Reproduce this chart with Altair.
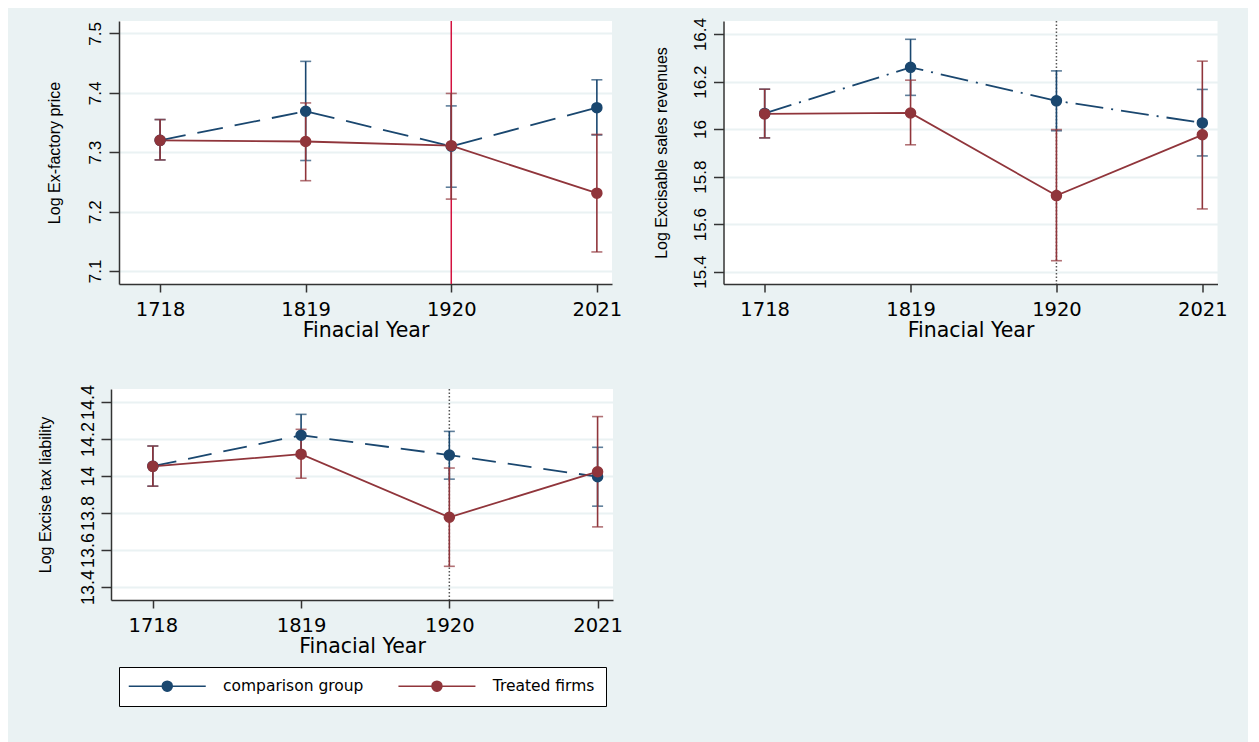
import altair as alt
import pandas as pd

# ---------------- data ----------------
years = [1718, 1819, 1920, 2021]
series_names = ["comparison group", "Treated firms"]

# Panel 1: Log Ex-factory price
p1_comp_mean = [7.320, 7.369, 7.310, 7.375]
p1_comp_lo = [7.287, 7.286, 7.241, 7.329]
p1_comp_hi = [7.355, 7.453, 7.378, 7.422]
p1_treat_mean = [7.320, 7.318, 7.311, 7.231]
p1_treat_lo = [7.287, 7.252, 7.221, 7.132]
p1_treat_hi = [7.355, 7.383, 7.399, 7.330]
p1_ticks = [7.1, 7.2, 7.3, 7.4, 7.5]

# Panel 2: Log Excisable sales revenues
p2_comp_mean = [16.066, 16.260, 16.119, 16.026]
p2_comp_lo = [15.963, 16.142, 15.993, 15.887]
p2_comp_hi = [16.168, 16.378, 16.245, 16.167]
p2_treat_mean = [16.064, 16.068, 15.720, 15.976]
p2_treat_lo = [15.963, 15.934, 15.446, 15.664]
p2_treat_hi = [16.168, 16.206, 15.998, 16.286]
p2_ticks = [15.4, 15.6, 15.8, 16.0, 16.2, 16.4]

# Panel 3: Log Excise tax liability
p3_comp_mean = [14.053, 14.220, 14.113, 13.996]
p3_comp_lo = [13.945, 14.107, 13.983, 13.837]
p3_comp_hi = [14.162, 14.333, 14.241, 14.155]
p3_treat_mean = [14.052, 14.118, 13.777, 14.023]
p3_treat_lo = [13.945, 13.988, 13.512, 13.725]
p3_treat_hi = [14.162, 14.252, 14.043, 14.321]
p3_ticks = [13.4, 13.6, 13.8, 14.0, 14.2, 14.4]

event_year = [1920]

# ---------------- style ----------------
NAVY = "#1A476F"
MAROON = "#90353B"
BG = "#EAF2F3"
AXIS = "#333333"
HFONT = "DejaVu Sans"
VFONT = "Liberation Sans"
X_DOMAIN = [1689.5, 2031.5]


def make_df(cm, cl, ch, tm, tl, th):
    rows = []
    for name, m, lo, hi in [(series_names[0], cm, cl, ch), (series_names[1], tm, tl, th)]:
        for y, a, b, c in zip(years, m, lo, hi):
            rows.append({"year": y, "series": name, "mean": a, "lo": b, "hi": c})
    return pd.DataFrame(rows)


def panel(df, ytitle, yticks, ydomain, width, height, comp_dash, vcolor, vdash,
          lab_pad, title_x, lab_size=17, legend=None):
    xenc = alt.X(
        "year:Q",
        scale=alt.Scale(domain=X_DOMAIN, nice=False, zero=False),
        axis=alt.Axis(
            values=years, format="d", title="Finacial Year", grid=False,
            tickSize=8, tickWidth=1.5, tickColor=AXIS, domainColor=AXIS, domainWidth=1.5,
            labelFont=HFONT, labelFontSize=19.5, labelColor="black",
            labelBaseline="alphabetic", labelPadding=23, labelFlush=False, labelOverlap=False,
            titleFont=HFONT, titleFontSize=20.5, titleFontWeight="normal", titleColor="black",
            titleBaseline="alphabetic", titleY=52,
        ),
    )
    yscale = alt.Scale(domain=ydomain, nice=False, zero=False)
    yaxis = alt.Axis(
        values=yticks, format="~g", title=ytitle, grid=True, gridColor=BG, gridWidth=1.8,
        tickSize=10, tickWidth=1.5, tickColor=AXIS, domainColor=AXIS, domainWidth=1.5,
        labelAngle=270, labelAlign="center", labelBaseline="alphabetic", labelPadding=lab_pad,
        labelFont=VFONT, labelFontSize=lab_size, labelColor="black", labelOverlap=False,
        labelFlush=False,
        titleFont=VFONT, titleFontSize=16, titleFontWeight="normal", titleColor="black",
        titleAngle=270, titleBaseline="alphabetic", titleX=title_x,
    )
    base = alt.Chart(df)
    comp = base.transform_filter(alt.datum.series == series_names[0])
    treat = base.transform_filter(alt.datum.series == series_names[1])

    rule_kw = dict(color=vcolor, strokeWidth=1.5)
    if vdash:
        rule_kw["strokeDash"] = vdash
    vline = alt.Chart(pd.DataFrame({"year": event_year})).mark_rule(**rule_kw).encode(
        x=xenc
    )

    comp_line = comp.mark_line(color=NAVY, strokeWidth=1.8, strokeDash=comp_dash).encode(
        x=xenc, y=alt.Y("mean:Q", scale=yscale, axis=yaxis), order="year:Q"
    )
    treat_line = treat.mark_line(color=MAROON, strokeWidth=1.8).encode(
        x="year:Q", y="mean:Q", order="year:Q"
    )
    comp_ci = comp.mark_rule(color=NAVY, strokeWidth=1.6).encode(
        x="year:Q", y="lo:Q", y2="hi:Q"
    )
    treat_ci = treat.mark_rule(color=MAROON, strokeWidth=1.6).encode(
        x="year:Q", y="lo:Q", y2="hi:Q"
    )
    cap = dict(orient="horizontal", size=11, thickness=1.6)
    comp_cap_lo = comp.mark_tick(color=NAVY, **cap).encode(x="year:Q", y="lo:Q")
    comp_cap_hi = comp.mark_tick(color=NAVY, **cap).encode(x="year:Q", y="hi:Q")
    treat_cap_lo = treat.mark_tick(color=MAROON, **cap).encode(x="year:Q", y="lo:Q")
    treat_cap_hi = treat.mark_tick(color=MAROON, **cap).encode(x="year:Q", y="hi:Q")

    cscale = alt.Scale(domain=series_names, range=[NAVY, MAROON])
    pts = base.mark_point(filled=True, size=100, strokeWidth=1.5, opacity=1).encode(
        x="year:Q", y="mean:Q",
        fill=alt.Fill("series:N", scale=cscale, legend=legend),
        stroke=alt.Stroke("series:N", scale=cscale, legend=legend),
    )
    return alt.layer(
        vline, comp_line, treat_line, comp_ci, comp_cap_lo, comp_cap_hi,
        treat_ci, treat_cap_lo, treat_cap_hi, pts,
    ).properties(width=width, height=height)


LEG_PATH = "M-7.7,0L-1,0M1,0L7.7,0M-1,0A1,1,0,1,1,1,0A1,1,0,1,1,-1,0Z"
legend = alt.Legend(
    title=None, orient="none", legendX=8, legendY=278, direction="horizontal", columns=2,
    symbolType=LEG_PATH, symbolSize=100, symbolStrokeWidth=1.5,
    symbolOffset=29.5, labelOffset=48, columnPadding=30.7,
    labelFont=HFONT, labelFontSize=15.5, labelColor="black",
    strokeColor="black", fillColor="white", padding=11,
)

df1 = make_df(p1_comp_mean, p1_comp_lo, p1_comp_hi, p1_treat_mean, p1_treat_lo, p1_treat_hi)
df2 = make_df(p2_comp_mean, p2_comp_lo, p2_comp_hi, p2_treat_mean, p2_treat_lo, p2_treat_hi)
df3 = make_df(p3_comp_mean, p3_comp_lo, p3_comp_hi, p3_treat_mean, p3_treat_lo, p3_treat_hi)

c1 = panel(df1, "Log Ex-factory price", p1_ticks, [7.078, 7.521], 493, 263,
           [26, 12], "#D3123F", None, 9, -60)
c2 = panel(df2, "Log Excisable sales revenues", p2_ticks, [15.348, 16.455], 494, 263,
           [28, 8, 2, 8], "#555555", [1.5, 2], 8, -57)
c3 = panel(df3, "Log Excise tax liability", p3_ticks, [13.330, 14.470], 502, 211,
           [24, 12], "#555555", [1.5, 2], 8, -61, lab_size=18, legend=legend)

# invisible 1px spacer that shifts the top row a little to the right of the bottom panel
spacer = alt.Chart(pd.DataFrame({"v": [0]})).mark_point(opacity=0).encode(
    x=alt.X("v:Q", axis=None), y=alt.Y("v:Q", axis=None)
).properties(width=1, height=1, view=alt.ViewBackground(fillOpacity=0, strokeOpacity=0))

pair = alt.hconcat(c1, c2, spacing=30.5).resolve_scale(fill="independent", stroke="independent") \
    .resolve_legend(fill="independent", stroke="independent")
top = alt.hconcat(spacer, pair, spacing=7, bounds="flush").resolve_scale(
    fill="independent", stroke="independent"
).resolve_legend(fill="independent", stroke="independent")

chart = alt.vconcat(top, c3, spacing=43).resolve_scale(
    fill="independent", stroke="independent"
).resolve_legend(fill="independent", stroke="independent").properties(
    background=BG,
    padding={"left": 29, "top": 9, "right": 20, "bottom": 38},
).configure_view(fill="white", stroke=None)

chart.save("out.html", embed_options={"renderer": "svg", "actions": False})
